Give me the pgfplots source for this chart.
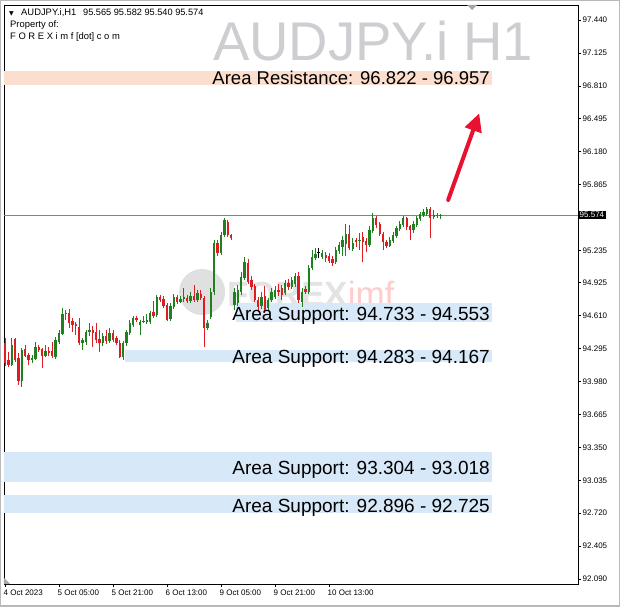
\documentclass[border=0pt]{standalone}
\usepackage{pgfplots}
\pgfplotsset{compat=1.18}
\usepackage{pgfplotstable}
\usepackage{fontspec}
\setmainfont{Liberation Sans}
\newfontfamily\symfont{DejaVu Sans}
\usetikzlibrary{arrows.meta}

\definecolor{bull}{RGB}{30,128,30}
\definecolor{bear}{RGB}{222,28,36}
\definecolor{resband}{RGB}{252,222,206}
\definecolor{supband}{RGB}{215,232,248}
\definecolor{priceline}{RGB}{120,135,150}
\definecolor{wmgray}{RGB}{205,205,210}
\definecolor{arrowred}{RGB}{232,18,48}

% H1 candles, bar index from 4 Oct 2023 13:00
\pgfplotstableread{
i o h l c
2 94.139 94.397 94.130 94.330
5 93.985 94.301 93.928 94.282
8 94.186 94.234 94.158 94.206
9 94.196 94.359 94.186 94.311
12 94.225 94.330 94.215 94.273
15 94.215 94.407 94.196 94.378
16 94.359 94.474 94.340 94.445
17 94.436 94.684 94.426 94.627
18 94.627 94.665 94.569 94.637
23 94.349 94.397 94.282 94.378
24 94.359 94.474 94.330 94.455
25 94.455 94.541 94.416 94.474
29 94.349 94.445 94.320 94.416
31 94.368 94.493 94.349 94.445
35 94.215 94.368 94.186 94.349
36 94.349 94.474 94.320 94.455
37 94.445 94.569 94.426 94.541
38 94.521 94.608 94.502 94.589
40 94.521 94.569 94.426 94.550
41 94.550 94.608 94.541 94.560
42 94.550 94.627 94.531 94.569
43 94.550 94.656 94.531 94.637
45 94.617 94.808 94.598 94.790
49 94.579 94.732 94.560 94.704
50 94.694 94.818 94.675 94.790
52 94.742 94.799 94.732 94.771
53 94.771 94.876 94.742 94.790
55 94.751 94.837 94.732 94.799
57 94.761 94.856 94.742 94.828
60 94.493 94.569 94.474 94.541
61 94.598 94.876 94.579 94.837
62 94.837 95.335 94.808 95.306
64 95.210 95.411 95.191 95.383
65 95.383 95.545 95.363 95.526
68 94.713 94.876 94.665 94.837
69 94.732 94.904 94.704 94.856
70 94.837 95.029 94.808 94.981
71 94.971 95.172 94.952 95.124
76 94.704 94.837 94.675 94.790
78 94.684 94.780 94.656 94.761
79 94.761 94.876 94.742 94.837
80 94.790 94.895 94.771 94.856
83 94.828 94.952 94.808 94.923
85 94.885 94.981 94.866 94.952
86 94.914 95.019 94.885 94.990
88 94.742 94.876 94.694 94.837
90 94.837 95.096 94.818 95.067
91 95.067 95.239 95.048 95.172
92 95.162 95.258 95.143 95.201
94 95.172 95.239 95.153 95.210
98 95.124 95.268 95.105 95.239
99 95.230 95.316 95.201 95.287
100 95.268 95.373 95.182 95.335
101 95.297 95.488 95.182 95.392
103 95.249 95.354 95.230 95.306
105 95.325 95.402 95.239 95.335
108 95.287 95.469 95.268 95.430
109 95.421 95.593 95.402 95.545
114 95.277 95.363 95.268 95.335
115 95.325 95.411 95.306 95.383
116 95.373 95.469 95.354 95.450
117 95.440 95.517 95.421 95.488
118 95.478 95.564 95.459 95.545
121 95.430 95.517 95.402 95.488
122 95.478 95.564 95.459 95.545
123 95.536 95.603 95.517 95.584
124 95.574 95.632 95.555 95.603
125 95.584 95.651 95.564 95.632
127 95.555 95.622 95.536 95.574
128 95.564 95.593 95.545 95.574
129 95.565 95.582 95.540 95.574
}\bulltab

\pgfplotstableread{
i o h l c
0 94.349 94.397 94.130 94.158
1 94.186 94.263 94.120 94.139
3 94.388 94.397 94.167 94.186
4 94.206 94.253 93.947 93.985
6 94.292 94.330 94.215 94.225
7 94.234 94.253 94.139 94.186
10 94.311 94.330 94.263 94.282
11 94.292 94.301 94.110 94.225
13 94.273 94.311 94.225 94.253
14 94.273 94.359 94.206 94.225
19 94.637 94.675 94.493 94.541
20 94.560 94.589 94.455 94.521
21 94.531 94.550 94.426 94.512
22 94.502 94.589 94.330 94.349
26 94.474 94.512 94.311 94.445
27 94.455 94.541 94.349 94.378
28 94.388 94.474 94.263 94.349
30 94.416 94.474 94.340 94.368
32 94.445 94.474 94.359 94.378
33 94.397 94.416 94.330 94.349
34 94.349 94.378 94.206 94.215
39 94.589 94.608 94.550 94.569
44 94.646 94.751 94.589 94.608
46 94.790 94.808 94.742 94.761
47 94.771 94.799 94.684 94.704
48 94.713 94.732 94.560 94.569
51 94.790 94.808 94.723 94.742
54 94.780 94.808 94.732 94.751
56 94.799 94.904 94.742 94.761
58 94.818 94.856 94.761 94.780
59 94.780 94.799 94.311 94.493
63 95.306 95.335 95.182 95.210
66 95.507 95.526 95.363 95.383
67 95.383 95.392 95.335 95.354
72 95.115 95.153 94.914 94.933
73 94.952 94.990 94.856 94.885
74 94.895 94.914 94.742 94.761
75 94.761 94.790 94.646 94.694
77 94.799 94.895 94.637 94.665
81 94.856 94.914 94.799 94.837
82 94.876 94.904 94.761 94.808
84 94.923 94.962 94.856 94.885
87 94.990 95.029 94.732 94.761
89 94.866 94.895 94.818 94.837
95 95.191 95.220 95.124 95.162
96 95.182 95.210 95.115 95.134
97 95.153 95.182 95.086 95.115
102 95.392 95.478 95.239 95.258
104 95.335 95.354 95.268 95.316
106 95.363 95.411 95.124 95.316
107 95.325 95.354 95.220 95.287
110 95.545 95.564 95.450 95.478
111 95.488 95.507 95.373 95.392
112 95.392 95.411 95.239 95.316
113 95.316 95.335 95.258 95.277
119 95.545 95.555 95.430 95.459
120 95.469 95.478 95.335 95.430
126 95.632 95.651 95.354 95.545
}\beartab

\pgfplotstableread{
i o h l c
93 95.210 95.258 95.162 95.210
}\dojitab

\begin{document}
\begin{tikzpicture}[x=1pt,y=1pt]
\begin{axis}[
  width=574pt, height=579pt, scale only axis,
  xmin=-0.3, xmax=169.77, ymin=92.042, ymax=97.584,
  clip=false,
  axis line style={black, line width=0.8pt},
  tick align=outside, major tick length=3pt,
  tick style={black, line width=0.6pt},
  xtick pos=bottom, ytick pos=right, yticklabel pos=right,
  xtick={0,16,32,48,64,80,96},
  xticklabels={4 Oct 2023,5 Oct 05:00,5 Oct 21:00,6 Oct 13:00,9 Oct 05:00,9 Oct 21:00,10 Oct 13:00},
  xticklabel style={font=\fontsize{8}{9}\selectfont, anchor=north west, inner sep=0pt, xshift=-1.5pt, yshift=-2.5pt},
  ytick={92.090,92.405,92.720,93.035,93.350,93.665,93.980,94.295,94.610,94.925,95.235,95.865,96.180,96.495,96.810,97.125,97.440},
  yticklabels={92.090,92.405,92.720,93.035,93.350,93.665,93.980,94.295,94.610,94.925,95.235,95.865,96.180,96.495,96.810,97.125,97.440},
  yticklabel style={font=\fontsize{8}{9}\selectfont, anchor=west, inner sep=0pt, xshift=1.5pt},
]
\coordinate (SW) at (rel axis cs:0,0);

% watermark
\node[anchor=base west, inner sep=0pt, text=wmgray, font=\fontsize{54.5}{60}\selectfont] at (axis cs:61.6,97.057) {AUDJPY.i H1};
\node[circle, fill=gray!24, minimum size=46pt, inner sep=0pt] at (axis cs:58.4,94.837) {};
\node[anchor=base west, inner sep=0pt, text=gray!22, font=\bfseries\fontsize{35}{40}\selectfont] at (axis cs:65.8,94.694) {FOREX};
\node[anchor=base west, inner sep=0pt, text=red!20, font=\fontsize{35}{40}\selectfont] at (axis cs:101.5,94.694) {imf};

% zones
\addplot[fill=resband, draw=none, forget plot] coordinates {(-0.3,96.822) (144.3,96.822) (144.3,96.957) (-0.3,96.957)} -- cycle;
\addplot[fill=supband, draw=none, forget plot] coordinates {(68.4,94.553) (144.3,94.553) (144.3,94.733) (68.4,94.733)} -- cycle;
\addplot[fill=supband, draw=none, forget plot] coordinates {(35.6,94.167) (144.3,94.167) (144.3,94.283) (35.6,94.283)} -- cycle;
\addplot[fill=supband, draw=none, forget plot] coordinates {(-0.3,93.018) (144.3,93.018) (144.3,93.304) (-0.3,93.304)} -- cycle;
\addplot[fill=supband, draw=none, forget plot] coordinates {(-0.3,92.725) (144.3,92.725) (144.3,92.896) (-0.3,92.896)} -- cycle;

% current price line
\addplot[priceline, line width=0.8pt, forget plot] coordinates {(-0.3,95.574) (169.77,95.574)};

% wicks
\addplot[draw=none, mark=none, forget plot, error bars/.cd, y dir=plus, y explicit, error mark=none,
  error bar style={draw=bull, line width=1pt}]
  table[x=i, y=l, y error expr=\thisrow{h}-\thisrow{l}] {\bulltab};
\addplot[draw=none, mark=none, forget plot, error bars/.cd, y dir=plus, y explicit, error mark=none,
  error bar style={draw=bear, line width=1pt}]
  table[x=i, y=l, y error expr=\thisrow{h}-\thisrow{l}] {\beartab};
\addplot[draw=none, mark=none, forget plot, error bars/.cd, y dir=plus, y explicit, error mark=none,
  error bar style={draw=black, line width=1pt}]
  table[x=i, y=l, y error expr=\thisrow{h}-\thisrow{l}] {\dojitab};
% bodies
\addplot[draw=none, mark=none, forget plot, error bars/.cd, y dir=plus, y explicit, error mark=none,
  error bar style={draw=bull, line width=2.3pt}]
  table[x=i, y=o, y error expr={max(\thisrow{c}-\thisrow{o},0.01)}] {\bulltab};
\addplot[draw=none, mark=none, forget plot, error bars/.cd, y dir=plus, y explicit, error mark=none,
  error bar style={draw=bear, line width=2.3pt}]
  table[x=i, y=c, y error expr={max(\thisrow{o}-\thisrow{c},0.01)}] {\beartab};
\addplot[draw=none, mark=none, forget plot, error bars/.cd, y dir=plus, y explicit, error mark=none,
  error bar style={draw=black, line width=3pt}]
  table[x=i, y=o, y error expr=0.01] {\dojitab};

% markers at the frame
\addplot[fill=gray!70, draw=none, forget plot] coordinates {(136.9,97.584) (139.9,97.584) (138.4,97.535)} -- cycle;
\addplot[fill=gray!70, draw=none, forget plot] coordinates {(-0.3,92.042) (1.5,92.042) (-0.3,92.100)} -- cycle;

% labels
\node[anchor=base east, inner sep=0pt, font=\fontsize{18.5}{22}\selectfont] at (axis cs:143.7,96.823) {Area Resistance: 96.822 - 96.957};
\node[anchor=base east, inner sep=0pt, font=\fontsize{19}{22}\selectfont] at (axis cs:143.7,94.560) {Area Support: 94.733 - 94.553};
\node[anchor=base east, inner sep=0pt, font=\fontsize{19}{22}\selectfont] at (axis cs:143.7,94.148) {Area Support: 94.283 - 94.167};
\node[anchor=base east, inner sep=0pt, font=\fontsize{19}{22}\selectfont] at (axis cs:143.7,93.086) {Area Support: 93.304 - 93.018};
\node[anchor=base east, inner sep=0pt, font=\fontsize{19}{22}\selectfont] at (axis cs:143.7,92.722) {Area Support: 92.896 - 92.725};

% arrow
\draw[arrowred, line width=4pt, line cap=round, -{Triangle[length=18pt, width=17pt]}] (axis cs:131.3,95.718) -- (axis cs:140.5,96.547);

% current price box
\node[anchor=west, fill=black, text=white, inner sep=1.5pt, font=\fontsize{8}{9}\selectfont] at (axis cs:169.77,95.574) {95.574};
\end{axis}

% header
\node[anchor=base west, inner sep=0pt, font=\symfont\fontsize{6}{7}\selectfont] at ([shift={(5,568.5)}]SW) {▼};
\node[anchor=base west, inner sep=0pt, font=\fontsize{9.4}{11}\selectfont] at ([shift={(17,568.5)}]SW) {AUDJPY.i,H1};
\node[anchor=base west, inner sep=0pt, font=\fontsize{9.2}{11}\selectfont] at ([shift={(79,568.5)}]SW) {95.565 95.582 95.540 95.574};
\node[anchor=base west, inner sep=0pt, font=\fontsize{9.4}{11}\selectfont] at ([shift={(6,556)}]SW) {Property of:};
\node[anchor=base west, inner sep=0pt, font=\fontsize{9.4}{11}\selectfont] at ([shift={(6,544)}]SW) {F O R E X i m f [dot] c o m};

\pgfresetboundingbox
\path[use as bounding box] ([shift={(-4,-22)}]SW) rectangle ([shift={(616,584)}]SW);
\draw[gray!55, line width=3pt] ([shift={(-4,-22)}]SW) rectangle ([shift={(616,584)}]SW);
\end{tikzpicture}
\end{document}
